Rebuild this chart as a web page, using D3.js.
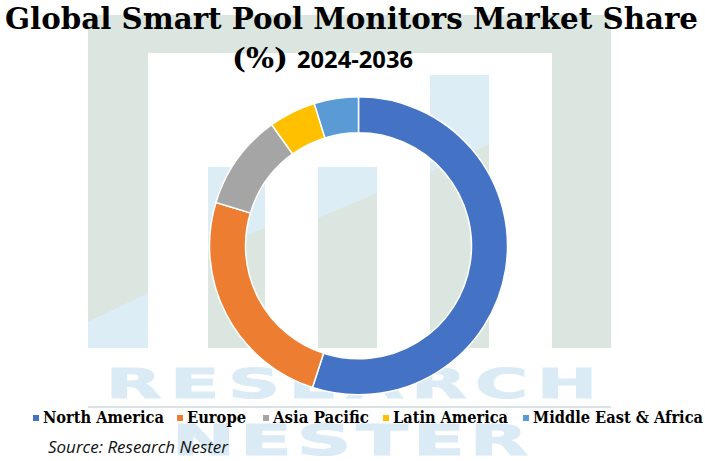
<!DOCTYPE html>
<html>
<head>
<meta charset="utf-8">
<script src="https://cdn.jsdelivr.net/npm/d3@7"></script>
<style>
  html, body { margin: 0; padding: 0; background: #fff; }
  svg { display: block; }
</style>
</head>
<body>
<svg id="chart" width="705" height="461"></svg>
<script>
// ---- data ----
const categories = ["North America", "Europe", "Asia Pacific", "Latin America", "Middle East & Africa"];
const shares = [55.0, 24.7, 10.4, 5.1, 4.8];
const colors = ["#4472C4", "#ED7D31", "#A5A5A5", "#FFC000", "#5B9BD5"];
const titleLine1 = "Global Smart Pool Monitors Market Share";
const titlePct = "(%)";
const titleYears = "2024-2036";
const sourceText = "Source: Research Nester";

const svg = d3.select("#chart");
const W = 705, H = 461;

// ---- watermark (background logo) ----
const wm = svg.append("g").attr("class", "watermark");
const grayG = "#DCE6E1", lightB = "#DDEDF6";
wm.append("rect").attr("x", 88).attr("y", 15).attr("width", 523).attr("height", 38).attr("fill", grayG);
wm.append("rect").attr("x", 88).attr("y", 15).attr("width", 60).attr("height", 333).attr("fill", grayG);
wm.append("rect").attr("x", 552).attr("y", 15).attr("width", 59).attr("height", 333).attr("fill", grayG);
wm.append("polygon").attr("points", "88,322 148,293 148,348 88,348").attr("fill", lightB);
const midBars = [
  {x0: 208, x1: 265, top: 167, yl: 252, yr: 228},
  {x0: 318, x1: 377, top: 167, yl: 218, yr: 193},
  {x0: 430, x1: 489, top: 75, yl: 172, yr: 144}
];
midBars.forEach(b => {
  wm.append("rect").attr("x", b.x0).attr("y", b.top).attr("width", b.x1 - b.x0).attr("height", 348 - b.top).attr("fill", grayG);
  wm.append("polygon").attr("points", `${b.x0},${b.top} ${b.x1},${b.top} ${b.x1},${b.yr} ${b.x0},${b.yl}`).attr("fill", lightB);
});
wm.append("rect").attr("x", 88).attr("y", 406).attr("width", 523).attr("height", 2).attr("fill", "#D8E2E7");
function wideText(str, x0, x1, yBase, size, sx) {
  wm.append("text")
    .attr("transform", `translate(${x0},${yBase}) scale(${sx},1)`)
    .attr("x", 0).attr("y", 0)
    .attr("font-family", "DejaVu Sans")
    .attr("font-weight", "bold")
    .attr("font-size", size)
    .attr("textLength", (x1 - x0) / sx)
    .attr("lengthAdjust", "spacing")
    .attr("stroke", "#DBEBF6")
    .attr("stroke-width", 1.2)
    .attr("fill", "#DBEBF6")
    .text(str);
}
wideText("RESEARCH", 106, 597, 398, 41, 1.75);
wideText("NESTER", 172, 528, 455, 43, 1.75);

// ---- donut ----
const cx = 358.5, cy = 245.8, rOuter = 149, rInner = 113;
const pie = d3.pie().sort(null).value(d => d.v).startAngle(0).endAngle(2 * Math.PI);
const arc = d3.arc().innerRadius(rInner).outerRadius(rOuter);
const data = categories.map((c, i) => ({c, v: shares[i]}));
const color = d3.scaleOrdinal().domain(categories).range(colors);
svg.append("g").attr("transform", `translate(${cx},${cy})`)
  .selectAll("path").data(pie(data)).join("path")
  .attr("d", arc)
  .attr("fill", d => color(d.data.c))
  .attr("stroke", "#fff")
  .attr("stroke-width", 1.5);

// ---- titles ----
svg.append("text")
  .attr("x", 5).attr("y", 29)
  .attr("font-family", "DejaVu Serif Condensed, DejaVu Serif, serif")
  .attr("font-weight", "bold")
  .attr("font-size", 30)
  .attr("textLength", 693)
  .attr("lengthAdjust", "spacingAndGlyphs")
  .attr("fill", "#000")
  .text(titleLine1);
svg.append("text")
  .attr("x", 232).attr("y", 68)
  .attr("font-family", "DejaVu Serif Condensed, DejaVu Serif, serif")
  .attr("font-weight", "bold")
  .attr("font-size", 27)
  .attr("textLength", 56)
  .attr("lengthAdjust", "spacingAndGlyphs")
  .attr("fill", "#000")
  .text(titlePct);
svg.append("text")
  .attr("x", 297).attr("y", 68)
  .attr("font-family", "Open Sans, Liberation Sans, sans-serif")
  .attr("font-weight", "bold")
  .attr("font-size", 23)
  .attr("textLength", 116)
  .attr("lengthAdjust", "spacingAndGlyphs")
  .attr("fill", "#000")
  .text(titleYears);

// ---- legend ----
const legendX = [33, 177, 263, 383, 523];
const legendW = [121, 59, 96, 115, 170];
const lg = svg.append("g");
categories.forEach((c, i) => {
  lg.append("rect").attr("x", legendX[i]).attr("y", 415).attr("width", 6).attr("height", 6).attr("fill", color(c));
  lg.append("text")
    .attr("x", legendX[i] + 10).attr("y", 423)
    .attr("font-family", "DejaVu Serif Condensed, DejaVu Serif, serif")
    .attr("font-weight", "bold")
    .attr("font-size", 16)
    .attr("textLength", legendW[i])
    .attr("lengthAdjust", "spacingAndGlyphs")
    .attr("fill", "#000")
    .text(c);
});

// ---- source ----
svg.append("text")
  .attr("x", 48).attr("y", 453)
  .attr("font-family", "Open Sans, Liberation Sans, sans-serif")
  .attr("font-style", "italic")
  .attr("font-size", 16)
  .attr("textLength", 180)
  .attr("lengthAdjust", "spacingAndGlyphs")
  .attr("fill", "#111")
  .text(sourceText);
</script>
</body>
</html>
